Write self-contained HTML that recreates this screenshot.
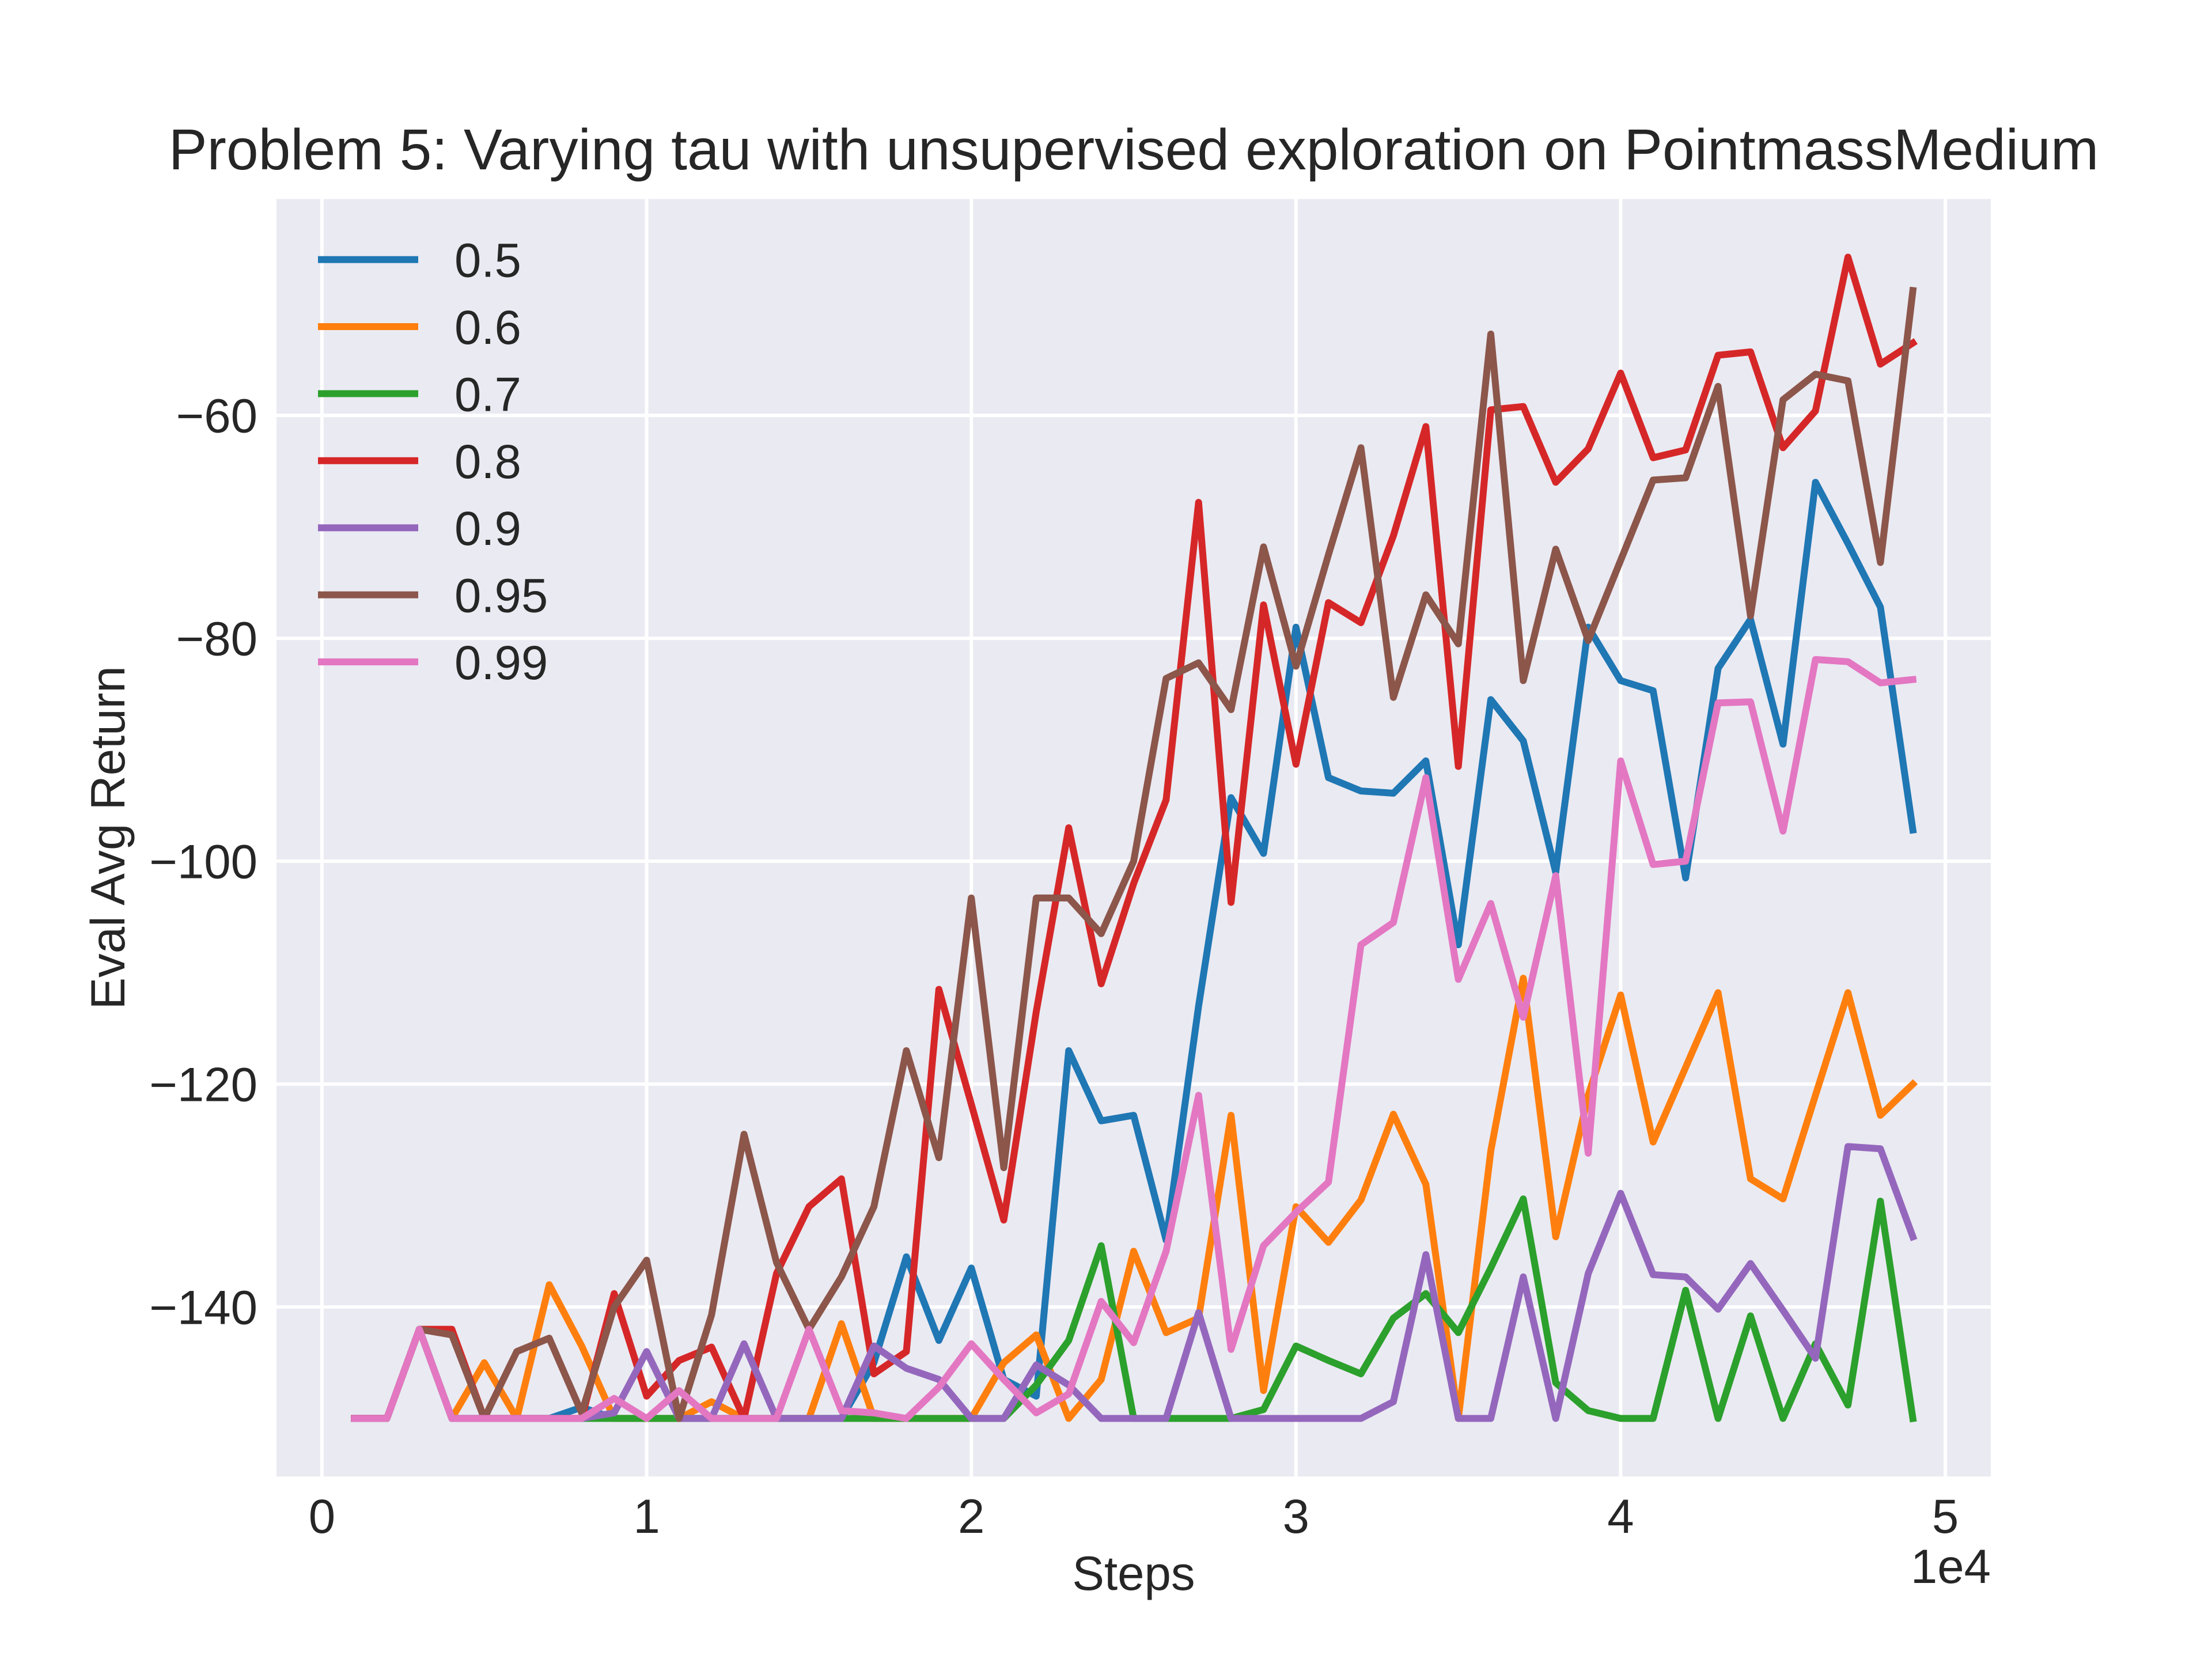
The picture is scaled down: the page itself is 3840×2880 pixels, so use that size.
<!DOCTYPE html>
<html><head><meta charset="utf-8"><style>
html,body{margin:0;padding:0;background:#fff}
svg{display:block;font-family:"Liberation Sans",Arial,sans-serif}
</style></head><body>
<svg id="chart" width="3840" height="2880" viewBox="0 0 640 480" xmlns="http://www.w3.org/2000/svg">
<rect x="0" y="0" width="640" height="480" fill="#fff"/>
<rect x="80" y="57.6" width="496" height="369.6" fill="#EAEAF2"/>
<g id="grid"></g>
<g id="series"></g>
<g id="ticks"></g>
<text x="328" y="49" font-size="16.7" text-anchor="middle" fill="#262626">Problem 5: Varying tau with unsupervised exploration on PointmassMedium</text>
<text x="328" y="460" font-size="13.9" text-anchor="middle" fill="#262626">Steps</text>
<text x="576" y="458" font-size="13.9" text-anchor="end" fill="#262626">1e4</text>
<text x="0" y="0" font-size="13.9" text-anchor="middle" fill="#262626" transform="translate(36,242.4) rotate(-90)">Eval Avg Return</text>
<g id="legend"></g>
</svg>
<script>
const steps = [];
for (let i = 1; i <= 49; i++) steps.push(i * 1000);
const seriesNames = ["0.5","0.6","0.7","0.8","0.9","0.95","0.99"];
const seriesColors = ["#1f77b4","#ff7f0e","#2ca02c","#d62728","#9467bd","#8c564b","#e377c2"];
const s05 = [-150,-150,-142,-150,-150,-150,-150,-149,-150,-150,-150,-150,-150,-150,-150,-150,-145,-135.5,-143,-136.5,-146.5,-148,-117,-123.3,-122.8,-134,-113,-94.3,-99.3,-79,-92.5,-93.7,-93.9,-91,-107.5,-85.5,-89.2,-101,-79,-83.8,-84.7,-101.5,-82.7,-78.3,-89.5,-66,-71.5,-77.2,-97.2];
const s06 = [-150,-150,-142,-150,-145,-150,-138,-143.5,-150,-150,-150,-148.5,-150,-150,-150,-141.5,-150,-150,-150,-150,-145,-142.5,-150,-146.5,-135,-142.3,-141,-122.8,-147.5,-131,-134.2,-130.4,-122.7,-129,-150,-126,-110.5,-133.7,-121,-112,-125.2,-118.5,-111.8,-128.5,-130.3,-121,-111.8,-122.8,-120];
const s07 = [-150,-150,-142,-150,-150,-150,-150,-150,-150,-150,-150,-150,-150,-150,-150,-150,-150,-150,-150,-150,-150,-147,-143,-134.5,-150,-150,-150,-150,-149.2,-143.5,-144.8,-146,-141,-138.8,-142.3,-136.5,-130.3,-146.8,-149.3,-150,-150,-138.5,-150,-140.8,-150,-143.3,-148.8,-130.5,-150];
const s08 = [-150,-150,-142,-142,-150,-150,-150,-150,-138.8,-148,-144.8,-143.6,-150,-137,-131,-128.5,-146,-144,-111.5,-121.8,-132.2,-113.5,-97,-111,-102,-94.5,-67.8,-103.7,-77,-91.3,-76.8,-78.6,-70.8,-61,-91.5,-59.5,-59.2,-66,-63,-56.2,-63.8,-63.1,-54.6,-54.3,-62.9,-59.6,-45.8,-55.4,-53.5];
const s09 = [-150,-150,-142,-150,-150,-150,-150,-150,-149.5,-144,-150,-150,-143.3,-150,-150,-150,-143.5,-145.5,-146.5,-150,-150,-145.2,-147,-150,-150,-150,-140.5,-150,-150,-150,-150,-150,-148.5,-135.3,-150,-150,-137.3,-150,-137,-129.8,-137.1,-137.3,-140.2,-136.1,-140.3,-144.6,-125.6,-125.8,-133.7];
const s095 = [-150,-150,-142,-142.5,-150,-144,-142.8,-149.5,-140,-135.8,-150,-140.7,-124.5,-136,-142,-137.3,-131,-117,-126.6,-103.3,-127.5,-103.3,-103.3,-106.5,-100,-83.6,-82.2,-86.4,-71.8,-82.5,-72.5,-62.9,-85.3,-76.1,-80.5,-52.7,-83.8,-72,-80.2,-73,-65.8,-65.6,-57.4,-78,-58.6,-56.3,-56.9,-73.2,-48.8];
const s099 = [-150,-150,-142,-150,-150,-150,-150,-150,-148.2,-150,-147.5,-150,-150,-150,-142,-149.3,-149.5,-150,-147.2,-143.3,-146.5,-149.5,-147.8,-139.5,-143.2,-135,-121,-143.8,-134.5,-131.5,-128.8,-107.5,-105.5,-92.5,-110.6,-103.8,-114,-101.3,-126.2,-91,-100.3,-100,-85.8,-85.7,-97.3,-81.9,-82.1,-84,-83.7];
const allSeries = [s05,s06,s07,s08,s09,s095,s099];
const xTicks = [0,10000,20000,30000,40000,50000];
const xTickLabels = ["0","1","2","3","4","5"];
const yTicks = [-140,-120,-100,-80,-60];
const yTickLabels = ["\u2212140","\u2212120","\u2212100","\u221280","\u221260"];

const NS = "http://www.w3.org/2000/svg";
const L = 80, R = 576, T = 57.6, B = 427.2;
const xMin = -1400, xMax = 51400, yMin = -155.21, yMax = -40.59;
function xs(v){ return L + (v - xMin) / (xMax - xMin) * (R - L); }
function ys(v){ return B - (v - yMin) / (yMax - yMin) * (B - T); }
function mk(tag, attrs){ const e = document.createElementNS(NS, tag); for (const k in attrs) e.setAttribute(k, attrs[k]); return e; }

const grid = document.getElementById('grid');
const ticks = document.getElementById('ticks');
xTicks.forEach((t, i) => {
  const ln = mk('line', {x1: xs(t), x2: xs(t), y1: T, y2: B, stroke: '#fff', 'stroke-width': 1});
  
  
  grid.appendChild(ln);
  const tx = mk('text', {x: xs(t), y: 443.5, 'font-size': 13.9, 'text-anchor': 'middle', fill: '#262626'});
  tx.textContent = xTickLabels[i];
  
  
  ticks.appendChild(tx);
});
yTicks.forEach((t, i) => {
  const ln = mk('line', {x1: L, x2: R, y1: ys(t), y2: ys(t), stroke: '#fff', 'stroke-width': 1});
  
  
  grid.appendChild(ln);
  const tx = mk('text', {x: 74.5, y: ys(t) + 4.9, 'font-size': 13.9, 'text-anchor': 'end', fill: '#262626'});
  tx.textContent = yTickLabels[i];
  
  
  ticks.appendChild(tx);
});

const sg = document.getElementById('series');
allSeries.forEach((vals, k) => {
  const pts = vals.map((v, i) => xs(steps[i]).toFixed(2) + ',' + ys(v).toFixed(2)).join(' ');
  const pl = mk('polyline', {points: pts, fill: 'none', stroke: seriesColors[k], 'stroke-width': 2.0, 'stroke-linejoin': 'round', 'stroke-linecap': 'square'});
  
  
  sg.appendChild(pl);
});

const lg = document.getElementById('legend');
seriesNames.forEach((n, k) => {
  const y = 75.1 + k * 19.4;
  const ln = mk('line', {x1: 92, x2: 121, y1: y, y2: y, stroke: seriesColors[k], 'stroke-width': 2.0});
  
  
  lg.appendChild(ln);
  const tx = mk('text', {x: 131.5, y: y + 5, 'font-size': 13.9, fill: '#262626'});
  tx.textContent = n;
  
  
  lg.appendChild(tx);
});
</script>
</body></html>
